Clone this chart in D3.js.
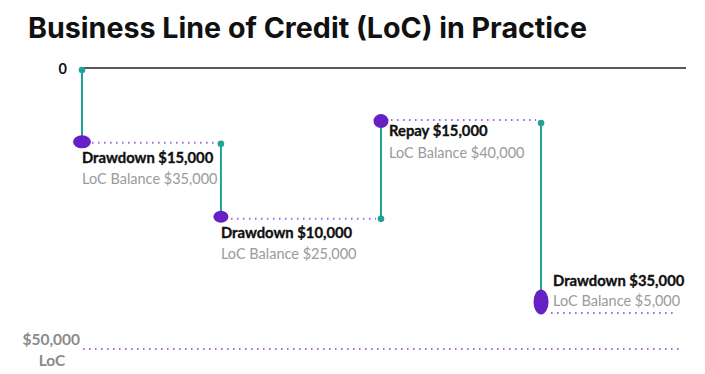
<!DOCTYPE html>
<html>
<head>
<meta charset="utf-8">
<script src="https://cdn.jsdelivr.net/npm/d3@7"></script>
<style>
html,body{margin:0;padding:0;background:#fff;}
svg{display:block;}
</style>
</head>
<body>
<svg id="chart" width="705" height="374"></svg>
<script>
// ---- data ----
const title = "Business Line of Credit (LoC) in Practice";
const actions = ["Drawdown", "Drawdown", "Repay", "Drawdown"];
const amounts = [15000, 10000, 15000, 35000];
const balances = [35000, 25000, 40000, 5000];
// used credit level as plotted in the picture (schematic, read from positions)
const plottedUsed = [13000, 26400, 9300, 41600];
// time position of each step
const periods = [0, 0.92, 1.98, 3.04];
const periodEnd = 4;
const creditLimit = 50000;
const yTickLabels = ["0", "$50,000", "LoC"];

// ---- layout / style ----
const W = 705, H = 374;
const teal = "#1fa396", purple = "#6620c4", dotPurple = "#a56ae0";
const fmt = d3.format("$,");
const labelFont = "'Source Sans Pro', Lato, 'Noto Sans', sans-serif";
// per-marker styling (shape & label offsets)
const markerStyle = [
  {rx: 9, ry: 6.5, dotDy: 1, lx: 0, ly1: 21, ly2: 42},
  {rx: 7.5, ry: 6, dotDy: 2, lx: 0, ly1: 21, ly2: 42},
  {rx: 7.5, ry: 7, dotDy: -1, lx: 8, ly1: 15, ly2: 37},
  {rx: 7.5, ry: 12.5, dotDy: 11, lx: 12, ly1: -16, ly2: 4}
];

const svg = d3.select("#chart");
const x = d3.scaleLinear().domain([0, periodEnd]).range([82, 686]);
const y = d3.scaleLinear().domain([0, creditLimit]).range([69, 349]);

// title
svg.append("text")
  .attr("x", 28).attr("y", 38)
  .attr("font-family", "Inter, 'Open Sans', sans-serif")
  .attr("font-weight", 700)
  .attr("font-size", 28)
  .attr("fill", "#111")
  .attr("textLength", 559)
  .attr("lengthAdjust", "spacingAndGlyphs")
  .text(title);

// zero line
svg.append("line")
  .attr("x1", x(0)).attr("x2", x(periodEnd))
  .attr("y1", y(0) - 1).attr("y2", y(0) - 1)
  .attr("stroke", "#222").attr("stroke-width", 1.5);

// y labels
svg.append("text").attr("x", 67).attr("y", y(0) + 5)
  .attr("text-anchor", "end").attr("font-family", labelFont)
  .attr("font-weight", 700).attr("font-size", 14.5).attr("fill", "#111")
  .text(yTickLabels[0]);
svg.append("text").attr("x", 80).attr("y", y(creditLimit) - 4)
  .attr("text-anchor", "end").attr("font-family", labelFont)
  .attr("font-weight", 700).attr("font-size", 15.5).attr("fill", "#8a8a8a")
  .text(yTickLabels[1]);
svg.append("text").attr("x", 52).attr("y", y(creditLimit) + 17)
  .attr("text-anchor", "middle").attr("font-family", labelFont)
  .attr("font-weight", 700).attr("font-size", 15.5).attr("fill", "#8a8a8a")
  .text(yTickLabels[2]);

// credit limit dotted line
svg.append("line")
  .attr("x1", x(0) + 1).attr("x2", x(periodEnd) - 3)
  .attr("y1", y(creditLimit)).attr("y2", y(creditLimit))
  .attr("stroke", dotPurple).attr("stroke-width", 2)
  .attr("stroke-dasharray", "1.6,4.4");

const steps = actions.map((a, i) => ({
  action: a, amount: amounts[i], balance: balances[i],
  used: plottedUsed[i], prevUsed: i === 0 ? 0 : plottedUsed[i - 1],
  t: periods[i], tNext: i + 1 < periods.length ? periods[i + 1] : periodEnd,
  s: markerStyle[i], last: i === actions.length - 1
}));

// dotted horizontal segments
svg.selectAll(".seg").data(steps).join("line")
  .attr("x1", d => x(d.t) + 10)
  .attr("x2", d => d.last ? x(d.tNext) - 10 : x(d.tNext) - 5)
  .attr("y1", d => y(d.used) + d.s.dotDy)
  .attr("y2", d => y(d.used) + d.s.dotDy)
  .attr("stroke", dotPurple).attr("stroke-width", 2)
  .attr("stroke-dasharray", "1.6,4.4");

// vertical teal lines
svg.selectAll(".vline").data(steps).join("line")
  .attr("x1", d => x(d.t)).attr("x2", d => x(d.t))
  .attr("y1", (d, i) => y(d.prevUsed) + (i === 0 ? 1 : 2))
  .attr("y2", d => y(d.used))
  .attr("stroke", teal).attr("stroke-width", 2);

// small teal start dots
svg.selectAll(".sdot").data(steps).join("circle")
  .attr("cx", d => x(d.t))
  .attr("cy", (d, i) => y(d.prevUsed) + (i === 0 ? 1 : 2))
  .attr("r", 3.3).attr("fill", teal);

// purple markers
svg.selectAll(".mk").data(steps).join("ellipse")
  .attr("cx", d => x(d.t)).attr("cy", d => y(d.used))
  .attr("rx", d => d.s.rx).attr("ry", d => d.s.ry)
  .attr("fill", purple);

// labels
const lab = svg.selectAll(".lab").data(steps).join("g")
  .attr("transform", d => `translate(${x(d.t) + d.s.lx},${y(d.used)})`);
lab.append("text").attr("y", d => d.s.ly1)
  .attr("font-family", labelFont).attr("font-weight", 700)
  .attr("font-size", 14.8).attr("fill", "#111")
  .attr("stroke", "#111").attr("stroke-width", 0.35)
  .text(d => `${d.action} ${fmt(d.amount)}`);
lab.append("text").attr("y", d => d.s.ly2)
  .attr("font-family", labelFont).attr("font-weight", 400)
  .attr("font-size", 14.5).attr("fill", "#9a9a9a")
  .text(d => `LoC Balance ${fmt(d.balance)}`);
</script>
</body>
</html>
